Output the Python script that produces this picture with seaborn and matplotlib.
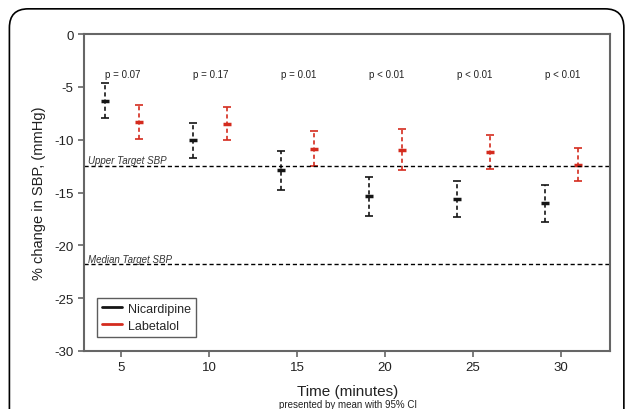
import matplotlib
matplotlib.use("Agg")
import matplotlib.pyplot as plt
import seaborn as sns
import pandas as pd
from matplotlib.patches import FancyBboxPatch
from matplotlib.lines import Line2D

# dados
tempos = [5, 10, 15, 20, 25, 30]
nic_media = [-6.3, -10.0, -12.9, -15.3, -15.6, -16.0]
nic_inf = [-7.9, -11.7, -14.8, -17.25, -17.35, -17.75]
nic_sup = [-4.6, -8.4, -11.1, -13.5, -13.9, -14.3]
lab_media = [-8.3, -8.5, -10.9, -11.0, -11.2, -12.4]
lab_inf = [-9.9, -10.0, -12.5, -12.9, -12.8, -13.9]
lab_sup = [-6.7, -6.9, -9.2, -9.0, -9.6, -10.8]
p_valores = ["p = 0.07", "p = 0.17", "p = 0.01", "p < 0.01", "p < 0.01", "p < 0.01"]
alvo_superior = -12.5
alvo_mediano = -21.8

sns.set_style("ticks")
plt.rcParams['font.family'] = ['Liberation Sans', 'DejaVu Sans']

df = pd.DataFrame({
    "tempo": tempos * 2,
    "grupo": ["Nicardipine"] * 6 + ["Labetalol"] * 6,
    "media": nic_media + lab_media,
    "inf": nic_inf + lab_inf,
    "sup": nic_sup + lab_sup,
})
deslocamento = {"Nicardipine": -0.9, "Labetalol": 1.0}
cores = {"Nicardipine": "#151515", "Labetalol": "#d42b1e"}
df["x"] = df["tempo"] + df["grupo"].map(deslocamento)

fig = plt.figure(figsize=(6.27, 4.10), dpi=100)
ax = fig.add_axes([0.134, 0.1415, 0.839, 0.773])

# moldura arredondada da figura
moldura = FancyBboxPatch((0.015, -0.2), 0.98, 1.176, boxstyle="round,pad=0,rounding_size=0.03",
                         transform=fig.transFigure, fill=False, edgecolor="black", linewidth=1.2,
                         mutation_aspect=627 / 410)
fig.patches.append(moldura)

for grupo, sub in df.groupby("grupo"):
    cor = cores[grupo]
    _, caps, barras = ax.errorbar(sub["x"], sub["media"],
                                  yerr=[sub["media"] - sub["inf"], sub["sup"] - sub["media"]],
                                  fmt="none", ecolor=cor, elinewidth=1.2, capsize=3, capthick=1.2)
    barras[0].set_linestyle((0, (2.5, 1.8)))
    sns.scatterplot(x=sub["x"], y=sub["media"], color=cor, marker="_", s=40, linewidth=2.5, ax=ax)

ax.axhline(alvo_superior, color="black", linestyle=(0, (3, 2)), linewidth=1)
ax.axhline(alvo_mediano, color="black", linestyle=(0, (3, 2)), linewidth=1)
ax.text(3.1, alvo_superior + 0.25, "Upper Target SBP", fontsize=7, style="italic", color="#333333")
ax.text(3.1, alvo_mediano + 0.25, "Median Target SBP", fontsize=7, style="italic", color="#333333")

for t, p in zip(tempos, p_valores):
    ax.text(t + 0.1, -3.8, p, fontsize=7, ha="center", va="center", color="#222222")

ax.set_xlim(2.9, 32.8)
ax.set_ylim(-30, 0)
ax.set_xticks(tempos)
ax.set_yticks([0, -5, -10, -15, -20, -25, -30])
ax.set_yticklabels(["0", "-5", "-10", "-15", "-20", "-25", "-30"])
ax.tick_params(labelsize=9.5, color="#666666", length=4, width=1.2, labelcolor="#222222")
for lado in ax.spines.values():
    lado.set_color("#666666")
    lado.set_linewidth(1.5)

ax.set_xlabel("")
ax.set_ylabel("% change in SBP, (mmHg)", fontsize=10.5, color="#222222", labelpad=6)
fig.text(0.555, 0.044, "Time (minutes)", fontsize=11, ha="center", va="center", color="#222222")
fig.text(0.555, 0.012, "presented by mean with 95% CI", fontsize=7, ha="center", va="center", color="#222222")

legenda = [Line2D([0], [0], color=cores["Nicardipine"], lw=2, label="Nicardipine"),
           Line2D([0], [0], color=cores["Labetalol"], lw=2, label="Labetalol")]
leg = ax.legend(handles=legenda, loc="lower left", bbox_to_anchor=(0.012, 0.025), fontsize=9,
                frameon=True, fancybox=False, edgecolor="#333333", handlelength=1.6,
                handletextpad=0.5, borderpad=0.4, labelspacing=0.4)
leg.get_frame().set_linewidth(1.0)

fig.savefig("out.png", dpi=100)
